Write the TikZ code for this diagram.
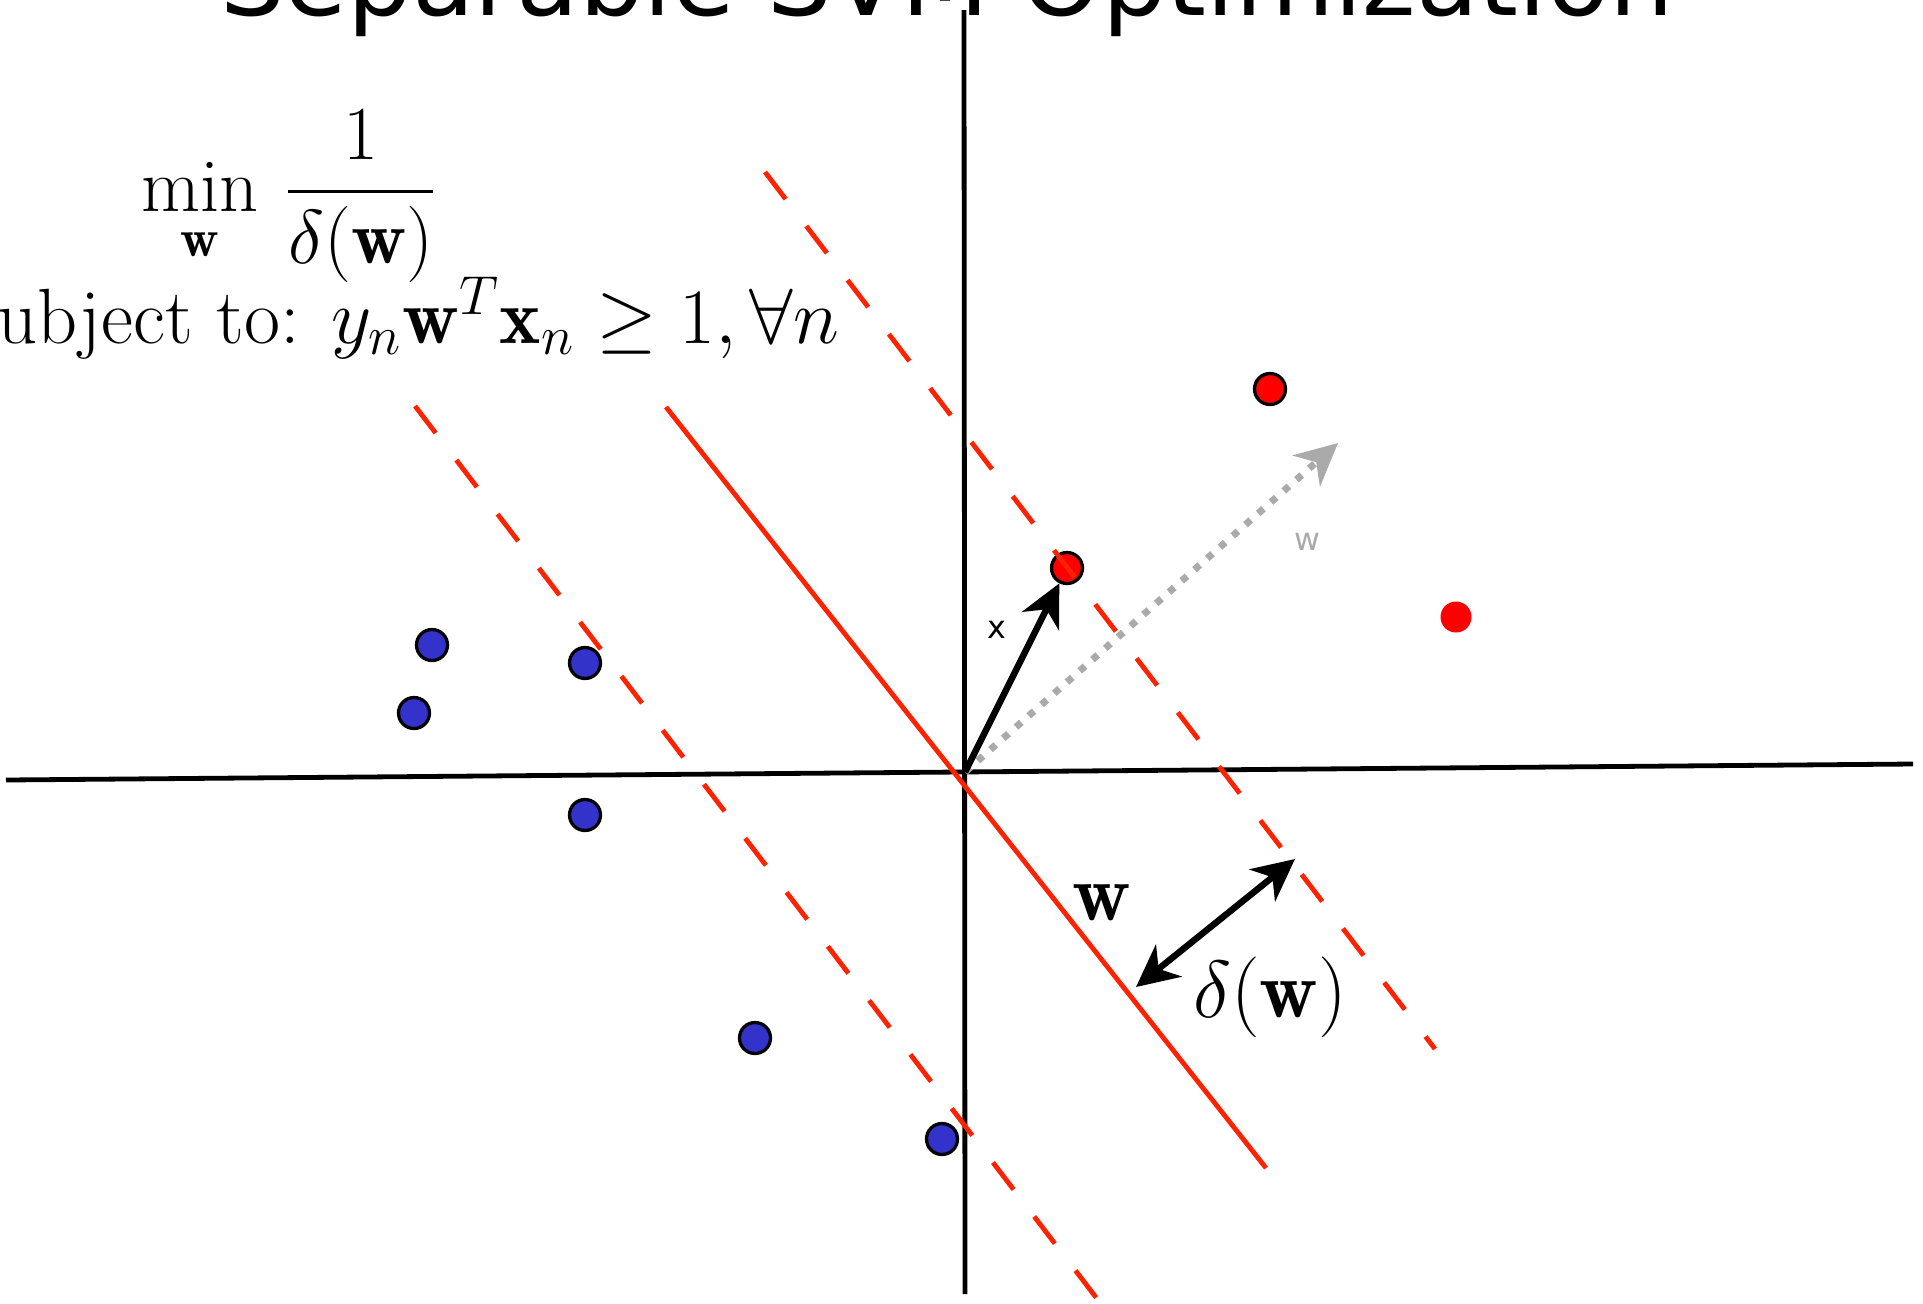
\RequirePackage{fix-cm}
\documentclass[tikz,border=0pt]{standalone}
\usepackage{amsmath,amssymb}
\usepackage{fontspec}
\usepackage{xcolor}
\usepackage{tikz}
\usetikzlibrary{arrows.meta}
\newfontfamily\labelfont{DejaVu Sans}
\definecolor{sepred}{RGB}{255,34,0}
\definecolor{pointred}{RGB}{255,0,0}
\definecolor{pointblue}{RGB}{51,51,204}
\definecolor{vecgray}{RGB}{170,170,170}
\tikzset{
  axisline/.style={
    draw=black,
    line width=0.48mm
  },
  sepline/.style={
    draw=sepred,
    line width=0.48mm
  },
  marginline/.style={
    draw=sepred,
    line width=0.48mm,
    dash pattern=on 3.4mm off 3.4mm
  },
  posdot/.style={
    circle,
    fill=pointred,
    draw=black,
    line width=0.33mm,
    minimum size=3.1mm,
    inner sep=0pt
  },
  plaindot/.style={
    circle,
    fill=pointred,
    minimum size=3.1mm,
    inner sep=0pt
  },
  negdot/.style={
    circle,
    fill=pointblue,
    draw=black,
    line width=0.33mm,
    minimum size=3.1mm,
    inner sep=0pt
  },
  vecarrow/.style={-{Stealth[length=4.2mm, width=4.1mm, inset=1.3mm]}, line width=0.65mm},
  marginarrow/.style={{Stealth[length=4.2mm, width=4.1mm, inset=1.3mm]}-{Stealth[length=4.2mm, width=4.1mm, inset=1.3mm]}, line width=0.65mm},
  normalarrow/.style={-{Stealth[length=4.2mm, width=4.1mm, inset=1.3mm]}, draw=vecgray, line width=0.7mm, dash pattern=on 0.7mm off 1mm}
}

\begin{document}
\begin{tikzpicture}[
    x=0.1mm, y=-0.1mm,
    font=\fontsize{21.7}{26}\selectfont
]
\useasboundingbox (0,0) rectangle (1923,1303);
\clip (0,0) rectangle (1923,1303);

\node[anchor=base, inner sep=0pt, font=\labelfont\fontsize{29}{34}\selectfont] (title) at (947,15) {Separable SVM Optimization};

\node[anchor=base west, inner sep=0pt] (objective) at (141,211)
{$\displaystyle\min_{\mathbf{w}}\,\frac{1}{\delta(\mathbf{w})}$};
\node[anchor=base east, inner sep=0pt, font=\fontsize{22.3}{27}\selectfont] (constraint) at (840,343)
{subject to: $y_n\mathbf{w}^T\mathbf{x}_n\geq 1,\forall n$};

% axes
\coordinate (xleft) at (6,780);
\coordinate (xright) at (1913,764);
\coordinate (ytop) at (964,10);
\coordinate (ybottom) at (965,1294);
\coordinate (O) at (965,772);
\draw[axisline] (xleft) -- (xright);
\draw[axisline] (ytop) -- (ybottom);

% separator and margins
\coordinate (sepA) at (666,407);
\coordinate (sepB) at (1266,1168);
\coordinate (upA) at (765,172);
\coordinate (upB) at (1435,1049);
\coordinate (lowA) at (415,406);
\coordinate (lowB) at (1098,1300);
\draw[sepline] (sepA) -- (sepB);
\draw[marginline] (lowA) -- (lowB);

\node[posdot] (pos1) at (1270,389) {};
\node[posdot] (pos2) at (1067,568) {};
\node[plaindot] (pos3) at (1456,617) {};

\draw[marginline] (upA) -- (upB);

\node[negdot] (neg1) at (432,645) {};
\node[negdot] (neg2) at (585,663) {};
\node[negdot] (neg3) at (414,713) {};
\node[negdot] (neg4) at (585,815) {};
\node[negdot] (neg5) at (755,1038) {};
\node[negdot] (neg6) at (942,1139) {};

% vectors
\coordinate (wtip) at (1338,443);
\draw[normalarrow] (O) -- (wtip);
\draw[vecarrow] (O) -- (pos2);
\node[font=\labelfont\fontsize{9}{11}\selectfont] (xlabel) at (997,630) {x};
\node[font=\labelfont\fontsize{9}{11}\selectfont, text=vecgray] (wlabel) at (1307,542) {w};

% margin
\coordinate (mA) at (1136,987);
\coordinate (mB) at (1295,859);
\draw[marginarrow] (mA) -- (mB);
\node[font=\fontsize{23}{28}\selectfont] (wbold) at (1102,903) {$\mathbf{w}$};
\node[font=\fontsize{23}{28}\selectfont] (delta) at (1270,997) {$\delta(\mathbf{w})$};
\end{tikzpicture}
\end{document}
